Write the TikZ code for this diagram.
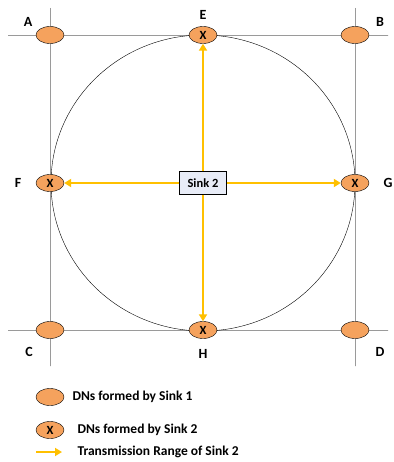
\documentclass[tikz,border=0pt]{standalone}
\usepackage{fontspec}
\setmainfont{Carlito}
\usetikzlibrary{shapes.geometric,arrows.meta}
\definecolor{dnorange}{HTML}{F5A25D}
\definecolor{rangegold}{HTML}{FFC000}
\definecolor{sinkfill}{HTML}{E8ECF7}
\definecolor{gridgray}{HTML}{9A9A9A}

\begin{document}
\begin{tikzpicture}[x=1pt, y=-1pt, every node/.style={font=\bfseries},
    dn/.style={ellipse, draw, thin, fill=dnorange, minimum width=28pt, minimum height=17pt, inner sep=0pt, font=\bfseries\fontsize{12.5}{14}\selectfont},
    gridline/.style={gridgray, line width=0.8pt, dash pattern=on 0.6pt off 0.4pt},
    txrange/.style={rangegold, line width=2.3pt, -{Triangle[length=7pt, width=8pt]}},
    lbl/.style={font=\bfseries\fontsize{14}{16}\selectfont},
    keytxt/.style={anchor=west, font=\bfseries\fontsize{13.5}{15}\selectfont}]
    \useasboundingbox (0,0) rectangle (393,462);

    % Grid lines
    \draw[gridline] (8,35) -- (388,35);
    \draw[gridline] (8,330) -- (388,330);
    \draw[gridline] (50,8) -- (50,366);
    \draw[gridline] (355,8) -- (355,366);

    % Coverage circle of Sink 2
    \draw[thin] (203,183) ellipse [x radius=152, y radius=148];

    % DNs formed by Sink 1
    \node[dn] (a) at (50,35) {};
    \node[dn] (b) at (355,35) {};
    \node[dn] (c) at (50,330) {};
    \node[dn] (d) at (355,330) {};

    % DNs formed by Sink 2
    \node[dn] (e) at (203,35) {X};
    \node[dn] (f) at (50,183) {X};
    \node[dn] (g) at (355,183) {X};
    \node[dn] (h) at (203,330) {X};

    % Sink
    \node[draw, thin, fill=sinkfill, minimum width=47pt, minimum height=23pt, inner sep=1pt, font=\bfseries\fontsize{12.5}{14}\selectfont] (sink) at (203,183) {Sink 2};

    % Transmission range
    \draw[txrange] (sink) -- (e);
    \draw[txrange] (sink) -- (h);
    \draw[txrange] (sink) -- (f);
    \draw[txrange] (sink) -- (g);

    % Node labels
    \node[lbl] (la) at (28,22) {A};
    \node[lbl] (lb) at (380,22) {B};
    \node[lbl] (lc) at (29,352) {C};
    \node[lbl] (ld) at (380,352) {D};
    \node[lbl] (le) at (203,15) {E};
    \node[lbl] (lh) at (203,354) {H};
    \node[lbl] (lf) at (18,183) {F};
    \node[lbl] (lg) at (388,183) {G};

    % Legend
    \node[dn] (key1) at (50,397) {};
    \node[keytxt] (key1txt) at (69,397) {DNs formed by Sink 1};
    \node[dn] (key2) at (50,430) {X};
    \node[keytxt] (key2txt) at (74,430) {DNs formed by Sink 2};
    \coordinate (key3a) at (36,452);
    \coordinate (key3b) at (62,452);
    \draw[txrange] (key3a) -- (key3b);
    \node[keytxt] (key3txt) at (74,452) {Transmission Range of Sink 2};
\end{tikzpicture}
\end{document}
